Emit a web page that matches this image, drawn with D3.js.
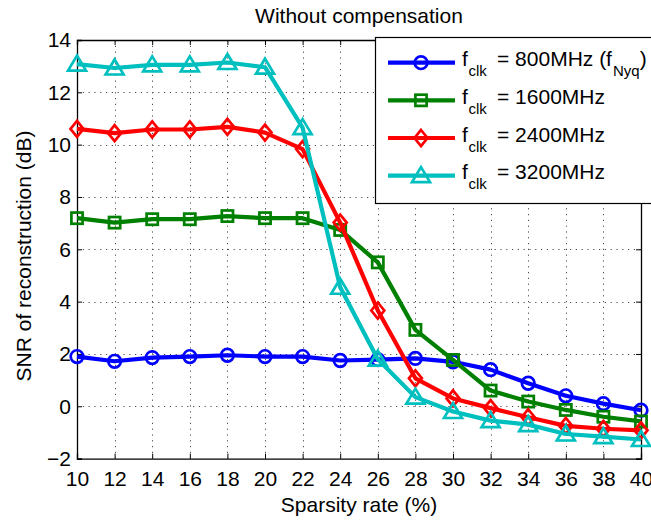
<!DOCTYPE html>
<html>
<head>
<meta charset="utf-8">
<script src="https://cdn.jsdelivr.net/npm/d3@7"></script>
<style>
  html, body { margin: 0; padding: 0; background: #fff; }
  svg { display: block; font-family: "Liberation Sans", Arial, Helvetica, sans-serif; }
</style>
</head>
<body>
<svg id="chart" width="651" height="521"></svg>
<script>
// Sparsity rate on the x axis (%)
const sparsity = [10, 12, 14, 16, 18, 20, 22, 24, 26, 28, 30, 32, 34, 36, 38, 40];

// SNR of reconstruction (dB) per clock frequency
const snr800  = [1.9, 1.72, 1.86, 1.9, 1.95, 1.9, 1.9, 1.75, 1.78, 1.83, 1.7, 1.4, 0.88, 0.4, 0.1, -0.15];
const snr1600 = [7.19, 7.02, 7.15, 7.15, 7.27, 7.19, 7.19, 6.74, 5.5, 2.92, 1.77, 0.6, 0.18, -0.14, -0.4, -0.58];
const snr2400 = [10.6, 10.44, 10.58, 10.58, 10.68, 10.46, 9.83, 7.02, 3.66, 1.07, 0.3, -0.07, -0.42, -0.75, -0.86, -0.92];
const snr3200 = [13.08, 12.93, 13.05, 13.05, 13.14, 12.96, 10.65, 4.55, 1.8, 0.35, -0.2, -0.55, -0.7, -1.06, -1.16, -1.27];

const xTicks = [10, 12, 14, 16, 18, 20, 22, 24, 26, 28, 30, 32, 34, 36, 38, 40];
const yTicks = [-2, 0, 2, 4, 6, 8, 10, 12, 14];

const seriesNames = ["800MHz", "1600MHz", "2400MHz", "3200MHz"];
const seriesColors = ["#0000ff", "#008000", "#ff0000", "#00bfbf"];
const seriesMarkers = ["circle", "square", "diamond", "triangle"];
const seriesValues = [snr800, snr1600, snr2400, snr3200];

const titleText = "Without compensation";
const xLabel = "Sparsity rate (%)";
const yLabel = "SNR of reconstruction (dB)";

const svg = d3.select("#chart");
const plotLeft = 77, plotRight = 641, plotTop = 40, plotBottom = 458.6;

const x = d3.scaleLinear().domain([10, 40]).range([plotLeft, plotRight]);
const y = d3.scaleLinear().domain([-2, 14]).range([plotBottom, plotTop]);

// dotted grid
const grid = svg.append("g").attr("stroke", "#000").attr("stroke-width", 1)
  .attr("stroke-dasharray", "1.2,4.6").attr("opacity", 0.7);
grid.selectAll("line.vx").data(xTicks.slice(1, -1)).join("line")
  .attr("x1", d => Math.round(x(d)) + 0.5).attr("x2", d => Math.round(x(d)) + 0.5)
  .attr("y1", plotTop).attr("y2", plotBottom);
grid.selectAll("line.hy").data(yTicks.slice(1, -1)).join("line")
  .attr("y1", d => Math.round(y(d)) + 0.5).attr("y2", d => Math.round(y(d)) + 0.5)
  .attr("x1", plotLeft).attr("x2", plotRight);

// axes with inward ticks on all four sides
const fmtY = d => d < 0 ? "\u2212" + Math.abs(d) : String(d);
const gx = svg.append("g").attr("transform", `translate(0,${plotBottom})`)
  .call(d3.axisBottom(x).tickValues(xTicks).tickSize(-5).tickPadding(12).tickFormat(d3.format("d")));
const gxt = svg.append("g").attr("transform", `translate(0,${plotTop})`)
  .call(d3.axisTop(x).tickValues(xTicks).tickSize(-5).tickFormat(""));
const gy = svg.append("g").attr("transform", `translate(${plotLeft},0)`)
  .call(d3.axisLeft(y).tickValues(yTicks).tickSize(-5).tickPadding(6).tickFormat(fmtY));
const gyr = svg.append("g").attr("transform", `translate(${plotRight},0)`)
  .call(d3.axisRight(y).tickValues(yTicks).tickSize(-5).tickFormat(""));
[gx, gxt, gy, gyr].forEach(g => {
  g.select(".domain").attr("stroke", "#000").attr("stroke-width", 1.3);
  g.selectAll(".tick line").attr("stroke", "#000").attr("stroke-width", 1);
  g.selectAll("text").attr("font-size", 21).attr("fill", "#000")
    .attr("font-family", "Liberation Sans, Arial, sans-serif");
});

// marker shapes
function drawMarker(g, kind, cx, cy, color) {
  if (kind === "circle") {
    g.append("circle").attr("cx", cx).attr("cy", cy).attr("r", 6.3)
      .attr("fill", "none").attr("stroke", color).attr("stroke-width", 2.7);
  } else if (kind === "square") {
    g.append("rect").attr("x", cx - 5.6).attr("y", cy - 5.6).attr("width", 11.2).attr("height", 11.2)
      .attr("fill", "none").attr("stroke", color).attr("stroke-width", 2.7);
  } else if (kind === "diamond") {
    g.append("path").attr("d", `M${cx},${cy - 8}L${cx + 6.5},${cy}L${cx},${cy + 8}L${cx - 6.5},${cy}Z`)
      .attr("fill", "none").attr("stroke", color).attr("stroke-width", 2.7);
  } else {
    g.append("path").attr("d", `M${cx},${cy - 8.5}L${cx + 9},${cy + 6.5}L${cx - 9},${cy + 6.5}Z`)
      .attr("fill", "none").attr("stroke", color).attr("stroke-width", 2.7).attr("stroke-linejoin", "miter");
  }
}

const line = d3.line().x(d => x(d[0])).y(d => y(d[1]));
const plot = svg.append("g");
seriesValues.forEach((vals, i) => {
  const pts = sparsity.map((s, j) => [s, vals[j]]);
  const g = plot.append("g");
  g.append("path").attr("d", line(pts)).attr("fill", "none")
    .attr("stroke", seriesColors[i]).attr("stroke-width", 4.2).attr("stroke-linejoin", "round");
  pts.forEach(p => drawMarker(g, seriesMarkers[i], x(p[0]), y(p[1]), seriesColors[i]));
});

// legend
const leg = svg.append("g");
leg.append("rect").attr("x", 375.5).attr("y", 37.5).attr("width", 300).attr("height", 166)
  .attr("fill", "#fff").attr("stroke", "#000").attr("stroke-width", 1.2);
const rowY = [62.7, 100.3, 138, 175.6];
seriesNames.forEach((name, i) => {
  const cy = rowY[i];
  leg.append("line").attr("x1", 388).attr("x2", 455).attr("y1", cy).attr("y2", cy)
    .attr("stroke", seriesColors[i]).attr("stroke-width", 4.2);
  drawMarker(leg, seriesMarkers[i], 421, cy, seriesColors[i]);
  const t = leg.append("text").attr("y", cy + 3.5).attr("font-size", 21).attr("fill", "#000");
  t.append("tspan").attr("x", 462).text("f");
  t.append("tspan").attr("x", 468.5).attr("dy", 10).attr("font-size", 15).text("clk");
  if (i === 0) {
    t.append("tspan").attr("x", 497).attr("dy", -10).text("= " + name + " (f");
    t.append("tspan").attr("dy", 10).attr("dx", 1).attr("font-size", 15).text("Nyq");
    t.append("tspan").attr("dy", -10).text(")");
  } else {
    t.append("tspan").attr("x", 497).attr("dy", -10).text("= " + name);
  }
});

// title and axis labels
svg.append("text").attr("x", (plotLeft + plotRight) / 2).attr("y", 23).attr("text-anchor", "middle")
  .attr("font-size", 21).text(titleText);
svg.append("text").attr("x", (plotLeft + plotRight) / 2).attr("y", 512).attr("text-anchor", "middle")
  .attr("font-size", 21).text(xLabel);
svg.append("text").attr("transform", `translate(31,256) rotate(-90)`)
  .attr("text-anchor", "middle").attr("font-size", 21).text(yLabel);
</script>
</body>
</html>
